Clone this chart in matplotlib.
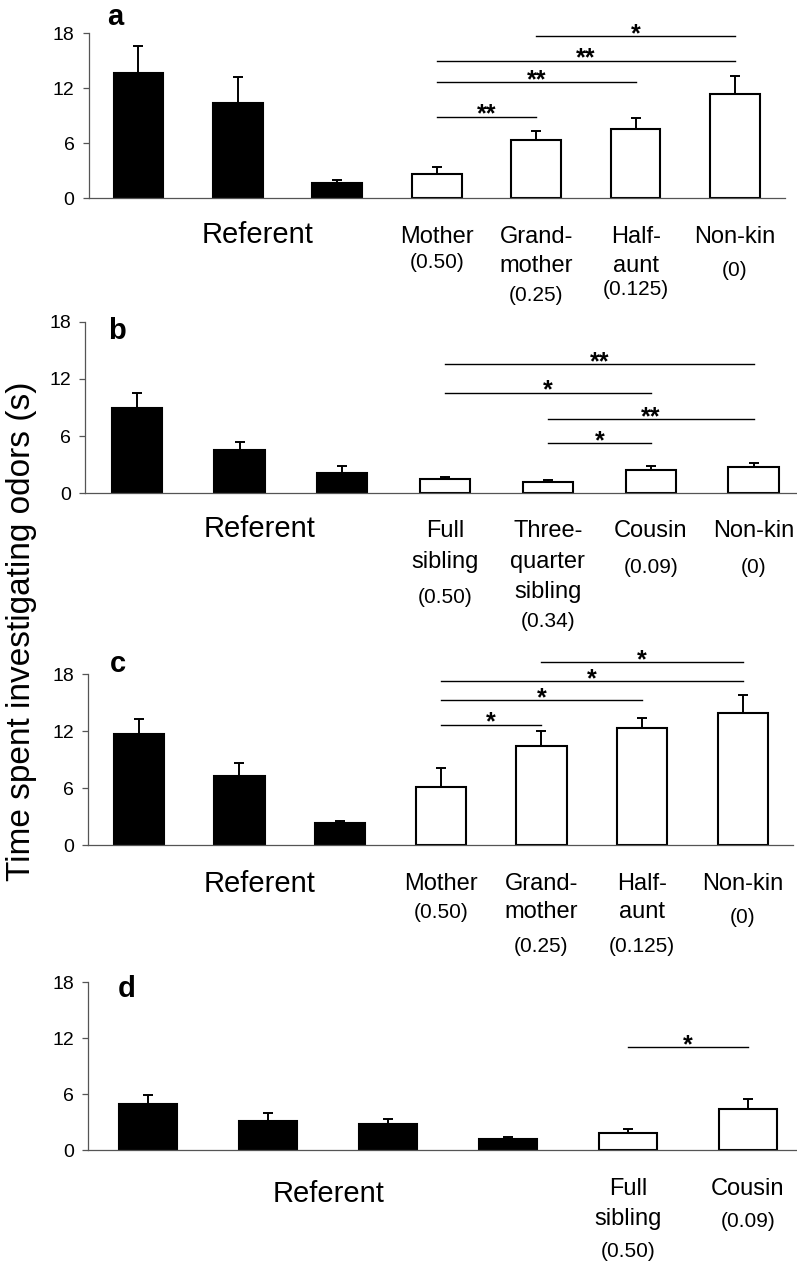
import matplotlib
matplotlib.use("Agg")
import matplotlib.pyplot as plt
import numpy as np

plt.rcParams['font.family'] = ['Liberation Sans', 'DejaVu Sans']

# ---------------- data ----------------
a_means = [13.7, 10.4, 1.67, 2.65, 6.4, 7.56, 11.4]
a_sems = [2.9, 2.8, 0.29, 0.75, 0.9, 1.24, 1.9]
a_labels = [["Mother", "(0.50)"], ["Grand-", "mother", "(0.25)"],
            ["Half-", "aunt", "(0.125)"], ["Non-kin", "(0)"]]
a_sig = [(3, 4, "**", 8.9), (3, 5, "**", 12.65), (3, 6, "**", 15.0), (4, 6, "*", 17.67)]

b_means = [8.91, 4.5, 2.16, 1.5, 1.15, 2.44, 2.79]
b_sems = [1.59, 0.9, 0.7, 0.24, 0.24, 0.46, 0.39]
b_labels = [["Full", "sibling", "(0.50)"], ["Three-", "quarter", "sibling", "(0.34)"],
            ["Cousin", "(0.09)"], ["Non-kin", "(0)"]]
b_sig = [(3, 6, "**", 13.55), (3, 5, "*", 10.55), (4, 6, "**", 7.79), (4, 5, "*", 5.24)]

c_means = [11.68, 7.26, 2.32, 6.1, 10.45, 12.32, 13.96]
c_sems = [1.58, 1.43, 0.24, 2.07, 1.58, 1.05, 1.86]
c_labels = [["Mother", "(0.50)"], ["Grand-", "mother", "(0.25)"],
            ["Half-", "aunt", "(0.125)"], ["Non-kin", "(0)"]]
c_sig = [(4, 6, "*", 19.3), (3, 6, "*", 17.26), (3, 5, "*", 15.26), (3, 4, "*", 12.7)]

d_means = [4.93, 3.14, 2.85, 1.25, 1.85, 4.39]
d_sems = [1.03, 0.89, 0.47, 0.21, 0.46, 1.14]
d_labels = [["Full", "sibling", "(0.50)"], ["Cousin", "(0.09)"]]
d_sig = [(4, 5, "*", 11.04)]

n_referent = [3, 3, 3, 4]
y_ticks = [0, 6, 12, 18]
panel_letters = ["a", "b", "c", "d"]
ylabel = "Time spent investigating odors (s)"

# ---------------- layout (pixels) ----------------
W, H = 797, 1265
fig = plt.figure(figsize=(W / 100, H / 100), dpi=100)


def rect(left, right, top, bottom):
    return [left / W, 1 - bottom / H, (right - left) / W, (bottom - top) / H]


panels = [
    dict(means=a_means, sems=a_sems, labels=a_labels, sig=a_sig, nref=n_referent[0],
         rect=(88.75, 784.75, 33.3, 198.3), width=0.5, ref_x=1.2, ref_off=45,
         offs=[[44.5, 70], [44.5, 73.4, 103], [44.5, 73.4, 97], [44.5, 78]],
         letter=(107, 25)),
    dict(means=b_means, sems=b_sems, labels=b_labels, sig=b_sig, nref=n_referent[1],
         rect=(85.3, 804.9, 321.7, 493.3), width=0.49, ref_x=1.2, ref_off=43.4,
         offs=[[43.4, 75, 110], [43.4, 75, 105, 133.4], [43.4, 80], [43.4, 80]],
         letter=(108, 339)),
    dict(means=c_means, sems=c_sems, labels=c_labels, sig=c_sig, nref=n_referent[2],
         rect=(88.4, 793, 674.3, 845.3), width=0.5, ref_x=1.2, ref_off=46.4,
         offs=[[44.7, 72.4], [44.7, 73, 106.4], [44.7, 73, 106.4], [44.7, 78]],
         letter=(110, 672)),
    dict(means=d_means, sems=d_sems, labels=d_labels, sig=d_sig, nref=n_referent[3],
         rect=(88.3, 807.7, 982.3, 1150.3), width=0.48, ref_x=1.5, ref_off=51.4,
         offs=[[44.7, 74.7, 107], [44.7, 76.4]],
         letter=(118, 997)),
]

PX = 0.72  # points per pixel
spine_col = "#555555"

for i, p in enumerate(panels):
    ax = fig.add_axes(rect(*p["rect"]))
    n = len(p["means"])
    x = np.arange(n)
    nref = p["nref"]
    colors = ["black"] * nref + ["white"] * (n - nref)
    ax.bar(x, p["means"], width=p["width"], color=colors, edgecolor="black",
           linewidth=1.5, zorder=2)
    ax.errorbar(x, p["means"], yerr=[np.zeros(n), p["sems"]], fmt="none",
                ecolor="black", elinewidth=1.4, capsize=3.6, capthick=1.4, zorder=1)
    ax.set_xlim(-0.5, n - 0.5)
    ax.set_ylim(0, 18)
    ax.set_yticks(y_ticks)
    ax.set_yticklabels([str(t) for t in y_ticks], fontsize=14)
    ax.tick_params(axis="y", direction="out", length=4.3, width=0.9, color=spine_col, pad=6)
    ax.set_xticks([])
    for s in ["top", "right"]:
        ax.spines[s].set_visible(False)
    for s in ["left", "bottom"]:
        ax.spines[s].set_color(spine_col)
        ax.spines[s].set_linewidth(0.9)
    ax.patch.set_alpha(0)

    # Referent label
    ax.annotate("Referent", xy=(p["ref_x"], 0), xytext=(0, -p["ref_off"] * PX),
                textcoords="offset points", ha="center", va="baseline", fontsize=21,
                annotation_clip=False)
    # category labels
    for j, lines in enumerate(p["labels"]):
        xc = nref + j
        for k, txt in enumerate(lines):
            fs = 15 if txt.startswith("(") else 17
            ax.annotate(txt, xy=(xc, 0), xytext=(0, -p["offs"][j][k] * PX),
                        textcoords="offset points", ha="center", va="baseline",
                        fontsize=fs, annotation_clip=False)
    # significance
    for (x1, x2, stars, yv) in p["sig"]:
        ax.plot([x1, x2], [yv, yv], color="black", lw=1.0, clip_on=False)
        ax.annotate(stars, xy=((x1 + x2) / 2, yv), xytext=(0, 1.5),
                    textcoords="offset points", ha="center", va="center",
                    fontsize=18, fontweight="bold", annotation_clip=False)

    lx, ly = p["letter"]
    fig.text(lx / W, 1 - ly / H, panel_letters[i], fontsize=21, fontweight="bold",
             ha="left", va="baseline")

fig.text(22 / W, 1 - 631 / H, ylabel, rotation=90, fontsize=24, ha="center", va="center")

fig.savefig("out.png", dpi=100)
